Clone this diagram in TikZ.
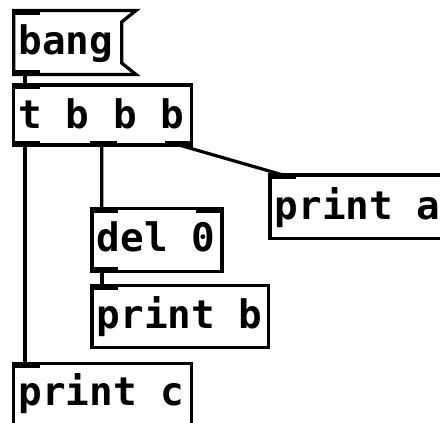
\documentclass[tikz,border=0pt]{standalone}
\usepackage{fontspec}
\newfontfamily\pdfont{DejaVu Sans Mono}
\begin{document}
\begin{tikzpicture}[x=1pt,y=-1pt,
  pdbox/.style={draw=black, line width=3.3pt, inner sep=0pt, outer sep=0pt},
  msgbox/.style={inner sep=0pt, outer sep=0pt},
  msgline/.style={draw=black, line width=3.3pt, line join=miter},
  pdlabel/.style={anchor=base west, inner sep=0pt, outer sep=0pt, font=\pdfont\bfseries\fontsize{39.3}{40}\selectfont, text=black},
  iotab/.style={fill=black},
  conn/.style={draw=black, line width=3.2pt}]
\useasboundingbox (0,0) rectangle (440,423);
\fill[white] (0,0) rectangle (440,423);
\clip (0,0) rectangle (440,423);

% boxes (as nodes)
\node[msgbox, minimum width=122.3pt, minimum height=64pt] (bang) at (74.85,42.5) {};
\node[pdbox, minimum width=177.8pt, minimum height=60pt] (t) at (102.6,115) {};
\node[pdbox, minimum width=178pt, minimum height=63.3pt] (pa) at (359,206.65) {};
\node[pdbox, minimum width=130pt, minimum height=63pt] (del) at (157,240) {};
\node[pdbox, minimum width=176.3pt, minimum height=61.8pt] (pb) at (180.15,316.4) {};
\node[pdbox, minimum width=177.8pt, minimum height=62pt] (pc) at (102.6,394.3) {};

% message box outline
\path[msgline] (bang.south west) -- (bang.north west) -- (bang.north east)
  -- ([shift={(-14.3,11.5)}]bang.north east)
  -- ([shift={(-14.3,-11.5)}]bang.south east)
  -- (bang.south east) -- cycle;

% connections
\draw[conn] ([xshift=11.3]bang.south west) -- ([xshift=11.3]t.north west);
\draw[conn] ([xshift=11.3]t.south west) -- ([xshift=11.3]pc.north west);
\draw[conn] ([xshift=88]t.south west) -- ([xshift=9.7]del.north west);
\draw[conn] ([xshift=10]del.south west) -- ([xshift=10]pb.north west);
\draw[conn] ([xshift=-12.5]t.south east) -- ([xshift=13]pa.north west);

% inlets / outlets
\fill[iotab] ([shift={(-1.65,-1.65)}]bang.north west) rectangle ++(28,6);
\fill[iotab] ([shift={(-1.65,1.65)}]bang.south west) rectangle ++(28,-6);
\fill[iotab] ([shift={(-1.65,-1.65)}]t.north west) rectangle ++(28,6);
\fill[iotab] ([shift={(-1.65,1.65)}]t.south west) rectangle ++(28,-6);
\fill[iotab] ([shift={(76.3,1.65)}]t.south west) rectangle ++(27,-6);
\fill[iotab] ([shift={(1.65,1.65)}]t.south east) rectangle ++(-28,-6);
\fill[iotab] ([shift={(-1.65,-1.65)}]pa.north west) rectangle ++(28,6);
\fill[iotab] ([shift={(-1.65,-1.65)}]del.north west) rectangle ++(28,6);
\fill[iotab] ([shift={(1.65,-1.65)}]del.north east) rectangle ++(-28,6);
\fill[iotab] ([shift={(-1.65,1.65)}]del.south west) rectangle ++(28,-6);
\fill[iotab] ([shift={(-1.65,-1.65)}]pb.north west) rectangle ++(28,6);
\fill[iotab] ([shift={(-1.65,-1.65)}]pc.north west) rectangle ++(28,6);

% labels
\node[pdlabel] (bangtext) at ([shift={(4.7,43.5)}]bang.north west) {bang};
\node[pdlabel] (ttext) at ([shift={(4.7,43)}]t.north west) {t b b b};
\node[pdlabel] (patext) at ([shift={(4.7,44)}]pa.north west) {print a};
\node[pdlabel] (deltext) at ([shift={(4.7,43)}]del.north west) {del 0};
\node[pdlabel] (pbtext) at ([shift={(4.7,42.5)}]pb.north west) {print b};
\node[pdlabel] (pctext) at ([shift={(4.7,42)}]pc.north west) {print c};
\end{tikzpicture}
\end{document}
